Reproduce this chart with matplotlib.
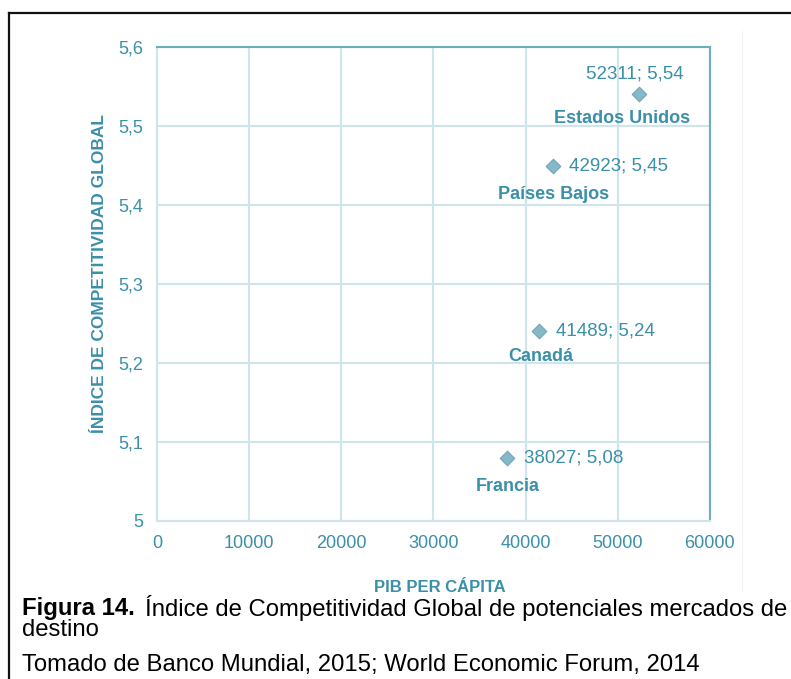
import matplotlib.pyplot as plt
from matplotlib.lines import Line2D
import numpy as np

plt.rcParams['font.family'] = ['Liberation Sans', 'DejaVu Sans']

# datos
paises = ["Estados Unidos", "Países Bajos", "Canadá", "Francia"]
pib = [52311, 42923, 41489, 38027]
icg = [5.54, 5.45, 5.24, 5.08]
xticks = [0, 10000, 20000, 30000, 40000, 50000, 60000]
yticks = [5.0, 5.1, 5.2, 5.3, 5.4, 5.5, 5.6]

teal = '#3a8fa9'
grid_c = '#cfe4eb'

fig = plt.figure(figsize=(7.91, 6.79), dpi=100)
ax = fig.add_axes([0.1985, 0.2327, 0.699, 0.698])

ax.scatter(pib, icg, marker='D', s=55, color='#86b8c8', edgecolor='#6fa6b8',
           linewidth=0.8, zorder=3)

# etiquetas de valor y nombre de cada país
val_off = [(-3, 15, 'center'), (12, 0, 'left'), (12, 0, 'left'), (12, 0, 'left')]
name_off = [(-12, -17, 'center'), (1, -21, 'center'), (1, -18, 'center'), (0, -21, 'center')]
for i in range(len(pib)):
    txt = f"{pib[i]}; {icg[i]:.2f}".replace('.', ',')
    dx, dy, ha = val_off[i]
    ax.annotate(txt, (pib[i], icg[i]), xytext=(dx, dy), textcoords='offset points',
                ha=ha, va='center', color=teal, fontsize=13.5)
    dx, dy, ha = name_off[i]
    ax.annotate(paises[i], (pib[i], icg[i]), xytext=(dx, dy), textcoords='offset points',
                ha=ha, va='center', color=teal, fontsize=13, fontweight='bold')

ax.set_xlim(0, 60000)
ax.set_ylim(5.0, 5.6)
ax.set_xticks(xticks)
ax.set_yticks(yticks)
ax.set_xticklabels([str(v) for v in xticks])
ax.set_yticklabels([f"{v:g}".replace('.', ',') for v in yticks])
ax.tick_params(length=0, colors=teal, labelsize=13, pad=10)
ax.grid(True, color=grid_c, linewidth=1.5)
ax.set_axisbelow(True)
for s in ['left', 'bottom']:
    ax.spines[s].set_color(grid_c)
    ax.spines[s].set_linewidth(1.5)
for s in ['top', 'right']:
    ax.spines[s].set_color('#6aaec2')
    ax.spines[s].set_linewidth(1.5)

fig.text(0.126, 0.597, "ÍNDICE DE COMPETITIVIDAD GLOBAL", rotation=90,
         ha='center', va='center', color=teal, fontsize=12.5, fontweight='bold')
fig.text(0.556, 0.135, "PIB PER CÁPITA", ha='center', va='center',
         color=teal, fontsize=12, fontweight='bold')

# marco del documento y borde tenue de la imagen
fig.add_artist(Line2D([0.0114, 1.0], [0.981, 0.981], color='#111111', linewidth=1.6))
fig.add_artist(Line2D([0.0114, 0.0114], [0.0, 0.981], color='#111111', linewidth=1.6))
fig.add_artist(Line2D([0.938, 0.938], [0.13, 0.955], color='#f3f3f3', linewidth=0.8))

# pie de figura
fs = 17.2
fig.text(0.028, 0.104, "Figura 14.", ha='left', va='center', fontsize=fs,
         fontweight='bold', color='black')
fig.text(0.183, 0.104, "Índice de Competitividad Global de potenciales mercados de",
         ha='left', va='center', fontsize=fs, color='black')
fig.text(0.028, 0.072, "destino", ha='left', va='center', fontsize=fs, color='black')
fig.text(0.028, 0.020, "Tomado de Banco Mundial, 2015; World Economic Forum, 2014",
         ha='left', va='center', fontsize=fs, color='black')

fig.savefig('out.png', dpi=100)
